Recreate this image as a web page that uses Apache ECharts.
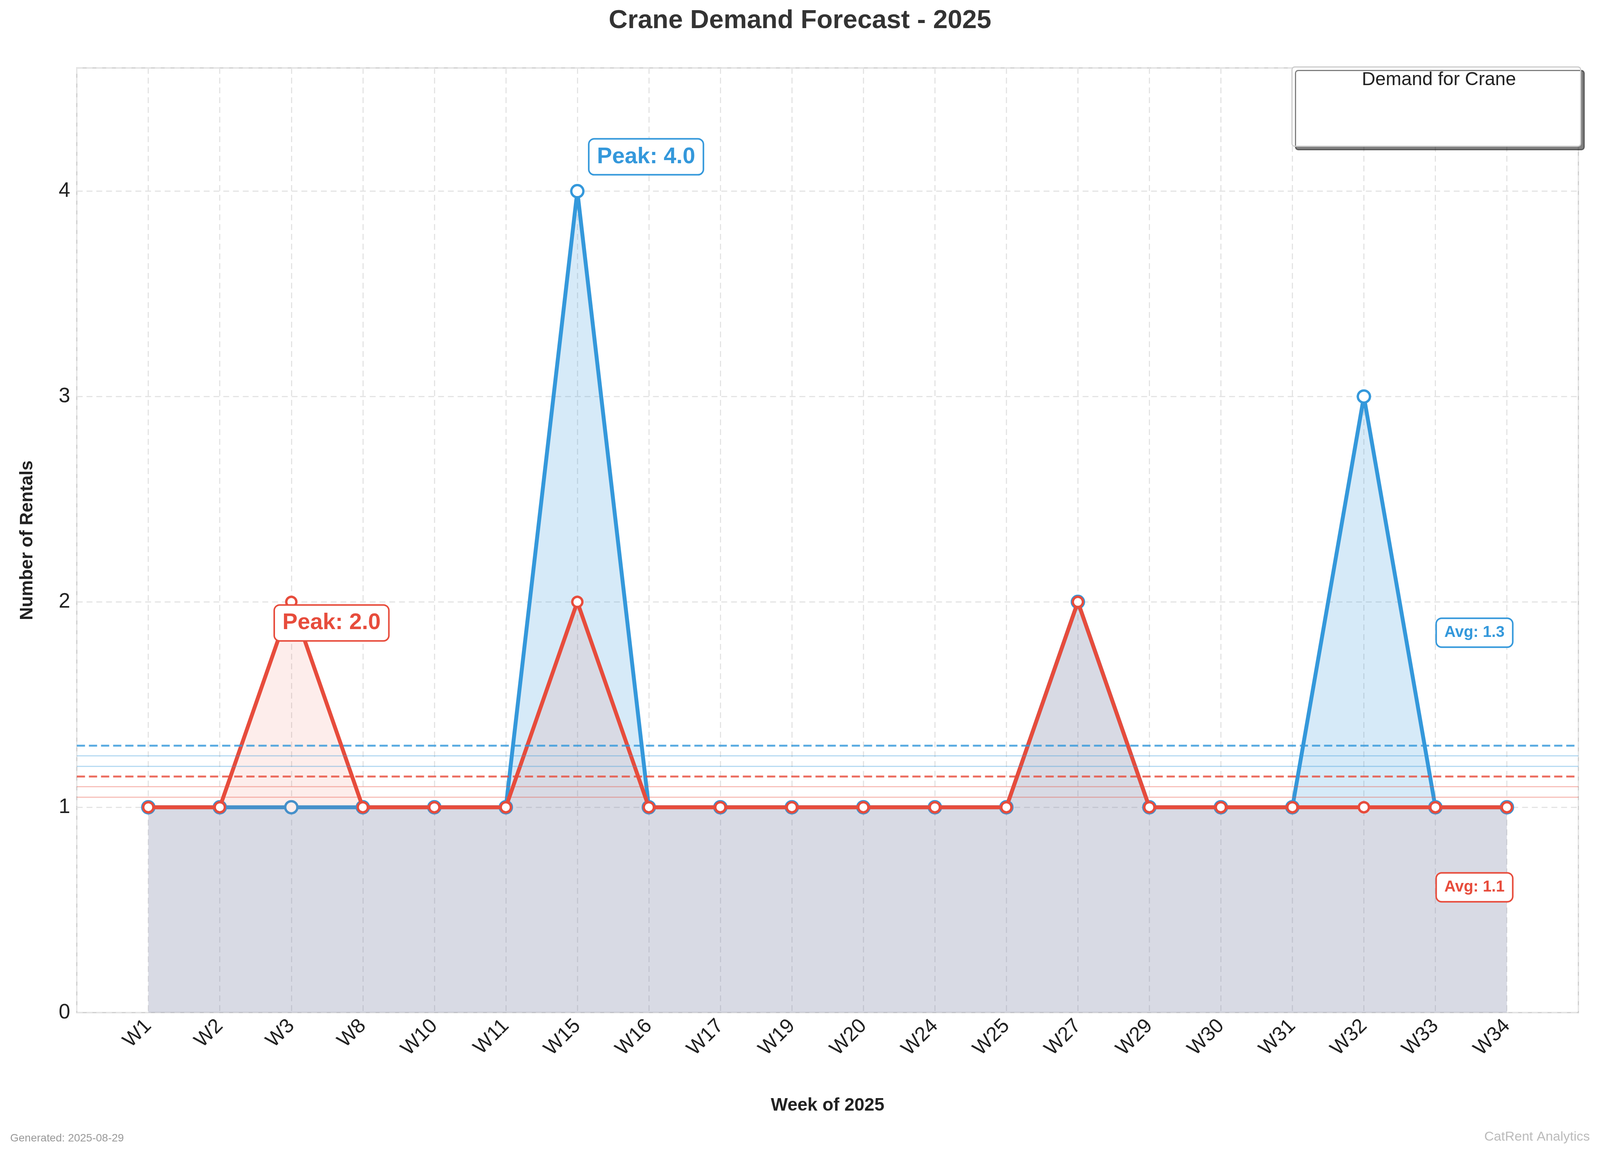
<!DOCTYPE html>
<html>
<head>
<meta charset="utf-8">
<script src="https://cdn.jsdelivr.net/npm/echarts@6/dist/echarts.min.js"></script>
<style>html,body{margin:0;padding:0;background:#fff;overflow:hidden}#box{width:100vw;height:100vh}</style>
</head>
<body>
<div id="box"></div>
<script>
var weeks = ['W1','W2','W3','W8','W10','W11','W15','W16','W17','W19','W20','W24','W25','W27','W29','W30','W31','W32','W33','W34'];
var actual = [1,1,1,1,1,1,4,1,1,1,1,1,1,2,1,1,1,3,1,1];
var predicted = [1,1,2,1,1,1,2,1,1,1,1,1,1,2,1,1,1,1,1,1];
var avgActual = 1.3, avgPredicted = 1.15;
var bandActual = [1.2, 1.25], bandPredicted = [1.05, 1.1];

window.onload = function () {
    var el = document.getElementById('box');
    var chart = echarts.init(el);
    // scale all pixel sizes to the real viewport width (designed for 4764 px)
    var s = el.clientWidth / 4764;
    var px = function (v) { return Math.round(v * s); };
    var blue = '#3498db', red = '#e74c3c';
    var cats = [''].concat(weeks).concat(['']);
    var pad = function (arr) { return ['-'].concat(arr).concat(['-']); };

    var boxLabel = function (color, size, off) {
        return {
            show: true, color: color, fontSize: px(size), fontWeight: 'bold',
            backgroundColor: '#fff', borderColor: color, borderWidth: px(5),
            borderRadius: px(14), padding: [px(18), px(22)], offset: [px(off[0]), px(off[1])]
        };
    };
    var thin = function (v, color) {
        return {yAxis: v, lineStyle: {color: color, width: px(3), type: 'solid', opacity: 0.35}, label: {show: false}};
    };

    chart.setOption({
        backgroundColor: '#fff',
        animation: false,
        title: {
            text: 'Crane Demand Forecast - 2025', left: 'center', top: px(18),
            textStyle: {fontSize: px(78), fontWeight: 'bold', color: '#333', fontFamily: 'Liberation Sans'}
        },
        textStyle: {fontFamily: 'Liberation Sans'},
        grid: {left: '4.8%', right: '1.35%', top: '5.9%', bottom: '12.1%', show: true, borderColor: '#ccc', borderWidth: px(3), containLabel: false},
        legend: {
            right: px(70), top: px(275), orient: 'vertical', itemWidth: px(100), itemHeight: px(36), itemGap: px(22),
            textStyle: {fontSize: px(46), color: '#222'},
            data: ['Actual Demand (26.0 units)', 'Predicted Demand (23.0 units)']
        },
        graphic: [
            {type: 'rect', right: px(56), top: px(198), shape: {width: px(860), height: px(236), r: px(8)},
             style: {fill: '#fff', stroke: '#ccc', lineWidth: px(3), shadowOffsetX: px(10), shadowOffsetY: px(10), shadowColor: 'rgba(0,0,0,0.5)'}, z: 5},
            {type: 'text', right: px(250), top: px(210), style: {text: 'Demand for Crane', fontSize: px(56), fill: '#222', fontFamily: 'Liberation Sans'}, z: 6},
            {type: 'text', left: px(30), bottom: px(25), style: {text: 'Generated: 2025-08-29', fontSize: px(32), fill: '#999', fontFamily: 'Liberation Sans'}},
            {type: 'text', right: px(30), bottom: px(25), style: {text: 'CatRent Analytics', fontSize: px(40), fill: '#bbb', fontFamily: 'Liberation Sans'}}
        ],
        xAxis: {
            type: 'category', data: cats, boundaryGap: false,
            name: 'Week of 2025', nameLocation: 'middle', nameGap: px(250),
            nameTextStyle: {fontSize: px(54), fontWeight: 'bold', color: '#222'},
            axisLine: {show: false}, axisTick: {show: false},
            axisLabel: {fontSize: px(60), color: '#222', rotate: 45, margin: px(30), interval: 0},
            splitLine: {show: true, lineStyle: {color: '#e4e4e4', width: px(3), type: [px(18), px(12)]}}
        },
        yAxis: {
            type: 'value', min: 0, max: 4.6, interval: 1,
            name: 'Number of Rentals', nameLocation: 'middle', nameGap: px(120),
            nameTextStyle: {fontSize: px(54), fontWeight: 'bold', color: '#222'},
            axisLine: {show: false}, axisTick: {show: false},
            axisLabel: {fontSize: px(62), color: '#222', margin: px(20), formatter: function (v) { return v <= 4 ? v : ''; }},
            splitLine: {show: true, lineStyle: {color: '#e4e4e4', width: px(3), type: [px(18), px(12)]}}
        },
        series: [
            {
                name: 'Actual Demand (26.0 units)', type: 'line', data: pad(actual),
                color: blue, symbol: 'circle', symbolSize: px(36),
                lineStyle: {width: px(12), color: blue},
                itemStyle: {color: '#fff', borderColor: blue, borderWidth: px(7)},
                areaStyle: {color: blue, opacity: 0.2},
                z: 3,
                markLine: {
                    symbol: 'none', silent: true,
                    data: [
                        {yAxis: avgActual, lineStyle: {color: blue, width: px(6), type: [px(24), px(12)], opacity: 0.8}, label: {show: false}},
                        thin(bandActual[0], blue), thin(bandActual[1], blue)
                    ]
                },
                markPoint: {
                    symbol: 'rect', symbolSize: 1, itemStyle: {color: 'transparent'},
                    data: [
                        {coord: ['W15', 4], label: boxLabel(blue, 68, [205, -102])},
                        {coord: ['W33', 1.85], label: boxLabel(blue, 46, [116, 0])}
                    ],
                    label: {formatter: function (p) { return p.dataIndex === 0 ? 'Peak: 4.0' : 'Avg: 1.3'; }}
                }
            },
            {
                name: 'Predicted Demand (23.0 units)', type: 'line', data: pad(predicted),
                color: red, symbol: 'circle', symbolSize: px(30),
                lineStyle: {width: px(12), color: red},
                itemStyle: {color: '#fff', borderColor: red, borderWidth: px(7)},
                areaStyle: {color: red, opacity: 0.1},
                z: 4,
                markLine: {
                    symbol: 'none', silent: true,
                    data: [
                        {yAxis: avgPredicted, lineStyle: {color: red, width: px(6), type: [px(24), px(12)], opacity: 0.8}, label: {show: false}},
                        thin(bandPredicted[0], red), thin(bandPredicted[1], red)
                    ]
                },
                markPoint: {
                    symbol: 'rect', symbolSize: 1, itemStyle: {color: 'transparent'},
                    data: [
                        {coord: ['W3', 2], label: boxLabel(red, 68, [120, 63])},
                        {coord: ['W33', 0.61], label: boxLabel(red, 46, [116, 0])}
                    ],
                    label: {formatter: function (p) { return p.dataIndex === 0 ? 'Peak: 2.0' : 'Avg: 1.1'; }}
                }
            }
        ]
    });
};
</script>
</body>
</html>
